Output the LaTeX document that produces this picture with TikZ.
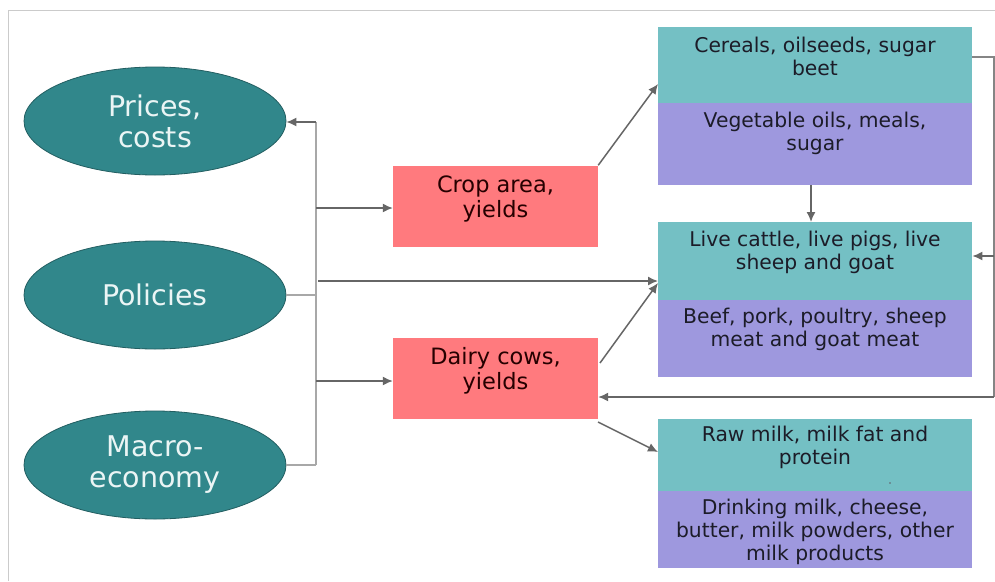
\documentclass[tikz,border=0pt]{standalone}
\usepackage{fontspec}
\setmainfont{DejaVu Sans}
\usetikzlibrary{arrows.meta,shapes.geometric}
\definecolor{ellfill}{HTML}{31878B}
\definecolor{elldraw}{HTML}{225E61}
\definecolor{tealbox}{HTML}{74C0C4}
\definecolor{lilac}{HTML}{9E98DE}
\definecolor{pinkbox}{HTML}{FF7A7E}
\definecolor{arrowgray}{HTML}{666666}
\definecolor{busgray}{HTML}{A8A8A8}
\definecolor{framegray}{HTML}{CBCBCB}
\definecolor{boxtext}{HTML}{1C1C28}
\tikzset{
  driver/.style={ellipse, fill=ellfill, draw=elldraw, line width=0.8pt,
    minimum width=262pt, minimum height=108pt, inner sep=0pt,
    text=white!92!teal, align=center, font=\fontsize{28.5}{31}\selectfont},
  pinkrect/.style={rectangle, fill=pinkbox, minimum width=205pt, minimum height=81pt,
    inner sep=0pt},
  pinktext/.style={align=center, text=black!85!red, font=\fontsize{22.5}{24.5}\selectfont},
  upper/.style={rectangle, fill=tealbox, anchor=north west, inner sep=0pt},
  lower/.style={rectangle, fill=lilac, anchor=north west, inner sep=0pt},
  boxlabel/.style={align=center, text=boxtext, font=\fontsize{20.3}{23}\selectfont},
  flow/.style={draw=arrowgray, line width=1.5pt, -{Latex[length=10pt,width=9pt]}},
  bus/.style={draw=busgray, line width=1.6pt},
  backflow/.style={draw=arrowgray!80, line width=1.5pt},
}
\begin{document}
\begin{tikzpicture}[x=1pt,y=-1pt]
\useasboundingbox (0,0) rectangle (995,581);
\fill[white] (0,0) rectangle (995,581);
% frame edges
\draw[framegray, line width=1pt] (8,581) -- (8,10) -- (995,10);

% driver ellipses
\node[driver] (prices) at (155,121) {Prices,\\costs};
\node[driver] (policies) at (155,295) {Policies};
\node[driver] (macro) at (155,465) {Macro-\\economy};

% supply-side boxes
\node[pinkrect] (crop) at (495.5,206) {};
\node[pinktext] (croptxt) at (495.5,199) {Crop area,\\yields};
\node[pinkrect] (dairy) at (495.5,378) {};
\node[pinktext] (dairytxt) at (495.5,371) {Dairy cows,\\yields};

% commodity blocks
\node[upper, minimum width=314pt, minimum height=76pt] (cer) at (658,27) {};
\node[lower, minimum width=314pt, minimum height=82pt] (veg) at (658,103) {};
\node[upper, minimum width=314pt, minimum height=78pt] (live) at (658,222) {};
\node[lower, minimum width=314pt, minimum height=77pt] (meat) at (658,300) {};
\node[upper, minimum width=314pt, minimum height=72pt] (raw) at (658,419) {};
\node[lower, minimum width=314pt, minimum height=77pt] (dprod) at (658,491) {};

\node[boxlabel] (certxt) at (815,56) {Cereals, oilseeds, sugar\\beet};
\node[boxlabel] (vegtxt) at (815,133) {Vegetable oils, meals,\\sugar};
\node[boxlabel] (livetxt) at (815,252) {Live cattle, live pigs, live\\sheep and goat};
\node[boxlabel] (meattxt) at (815,329) {Beef, pork, poultry, sheep\\meat and goat meat};
\node[boxlabel] (rawtxt) at (815,447) {Raw milk, milk fat and\\protein};
\node[boxlabel] (dprodtxt) at (815,532) {Drinking milk, cheese,\\butter, milk powders, other\\milk products};
\fill[boxtext!70] (890,483) circle (0.8pt);

% bus from the drivers
\coordinate (bustop) at (316,122);
\coordinate (buspol) at (316,295);
\coordinate (busbot) at (316,465);
\coordinate (buscrop) at (316,208);
\coordinate (busdairy) at (316,381);
\coordinate (buslive) at (318,281);
\draw[bus] (bustop) -- (busbot);
\draw[bus] (policies.east) -- (buspol);
\draw[bus] (macro.east) -- (busbot);
\draw[flow] (bustop) -- (prices.east |- bustop);
\draw[flow] (buscrop) -- (crop.west |- buscrop);
\draw[flow] (busdairy) -- (dairy.west |- busdairy);
\draw[flow] (buslive) -- (live.west |- buslive);

% supply to commodities
\coordinate (cerin) at (658,84);
\coordinate (livein) at (658,283);
\coordinate (rawin) at (658,452);
\coordinate (dairyup) at (600,363);
\coordinate (dairydown) at (598,422);
\draw[flow] (crop.north east) -- (cerin);
\draw[flow] (dairyup) -- (livein);
\draw[flow] (dairydown) -- (rawin);
\draw[flow] (veg.south -| 811,0) -- (live.north -| 811,0);

% feedback loop on the right
\coordinate (rtop) at (994,57);
\coordinate (rmid) at (994,256);
\coordinate (rbot) at (994,397);
\draw[backflow] (cer.east |- rtop) -- (rtop) -- (rbot);
\draw[flow] (rbot) -- (dairy.east |- rbot);
\draw[flow] (rmid) -- (live.east |- rmid);
\end{tikzpicture}
\end{document}
